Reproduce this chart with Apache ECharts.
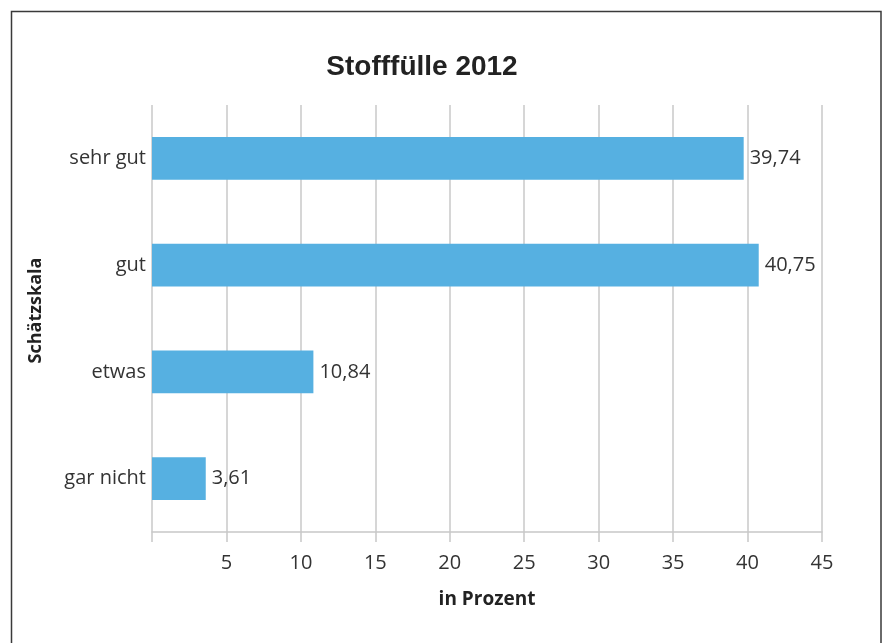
<!DOCTYPE html>
<html><head><meta charset="utf-8">
<script src="https://cdn.jsdelivr.net/npm/echarts@6/dist/echarts.min.js"></script>
<style>html,body{margin:0;padding:0;background:#fff}#c{width:882px;height:643px}</style>
</head><body><div id="c"></div>
<script>
const categories = ['sehr gut', 'gut', 'etwas', 'gar nicht'];
const values = [39.74, 40.75, 10.84, 3.61];
const xTicks = [0, 5, 10, 15, 20, 25, 30, 35, 40, 45];

const font = '"Open Sans", "Noto Sans", sans-serif';
const chart = echarts.init(document.getElementById('c'), null, {renderer: 'canvas'});
chart.setOption({
  animation: false,
  backgroundColor: '#fff',
  graphic: [{
    type: 'rect', shape: {x: 11.5, y: 11.5, width: 869.5, height: 640},
    style: {fill: 'none', stroke: '#3a3a3a', lineWidth: 1.5}, silent: true
  }],
  title: {
    text: 'Stofffülle 2012', left: 417, top: 48, textAlign: 'center',
    textStyle: {fontFamily: 'Liberation Sans, Arial, sans-serif', fontWeight: 'bold', fontSize: 28, color: '#222'}
  },
  grid: {left: 152, right: 60, top: 105, bottom: 111, containLabel: false},
  xAxis: {
    type: 'value', min: xTicks[0], max: xTicks[xTicks.length - 1], interval: 5,
    name: 'in Prozent', nameLocation: 'middle', nameGap: 58,
    nameTextStyle: {fontFamily: font, fontWeight: 'bold', fontSize: 19, color: '#222'},
    axisLine: {show: true, lineStyle: {color: '#c8c8c8', width: 1.5}},
    axisTick: {show: true, length: 10, lineStyle: {color: '#c8c8c8', width: 1.5}},
    axisLabel: {fontFamily: font, fontSize: 20, color: '#333', margin: 21,
      formatter: v => v === 0 ? '' : String(v)},
    splitLine: {show: true, lineStyle: {color: '#c8c8c8', width: 1.5}}
  },
  yAxis: {
    type: 'category', data: categories, inverse: true,
    name: 'Schätzskala', nameLocation: 'middle', nameGap: 107, nameRotate: 90,
    nameTextStyle: {fontFamily: font, fontWeight: 'bold', fontSize: 18, color: '#222', padding: [0, 0, 0, 16]},
    axisLine: {show: false},
    axisTick: {show: false},
    axisLabel: {fontFamily: font, fontSize: 20, color: '#333', margin: 6},
    splitLine: {show: false}
  },
  series: [{
    type: 'bar', data: values, barWidth: '40%',
    itemStyle: {color: '#56B0E1'},
    label: {show: true, position: 'right', distance: 6, fontFamily: font, fontSize: 20, color: '#333',
      formatter: p => p.value.toFixed(2).replace('.', ',')}
  }]
});
</script></body></html>
